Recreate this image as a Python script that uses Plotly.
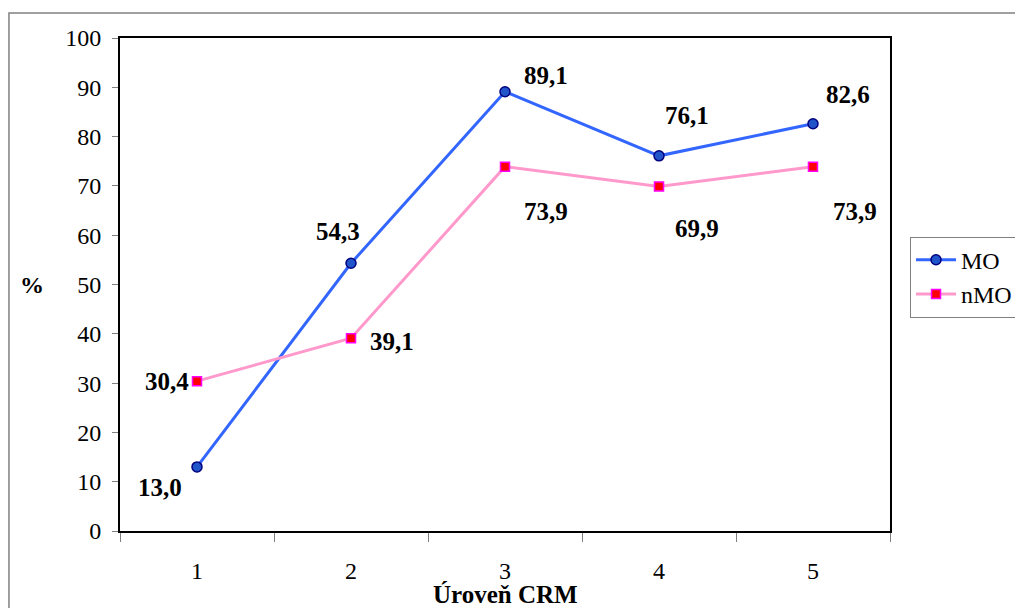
import plotly.graph_objects as go

categories = [1, 2, 3, 4, 5]
mo_values = [13.0, 54.3, 89.1, 76.1, 82.6]
nmo_values = [30.4, 39.1, 73.9, 69.9, 73.9]
y_ticks = [0, 10, 20, 30, 40, 50, 60, 70, 80, 90, 100]

# label offsets (px) for each point
mo_shift = [(-37, -21), (-13, 32), (41, 16), (28, 40), (35, 29)]
nmo_shift = [(-30, 0), (41, -3), (41, -45), (38, -42), (42, -45)]

FONT = "Liberation Serif"

fig = go.Figure()
fig.add_trace(go.Scatter(
    x=categories, y=mo_values, name="MO", mode="lines+markers",
    line=dict(color="#3366FF", width=3),
    marker=dict(symbol="circle", size=10, color="#1F55C8",
                line=dict(color="#000080", width=1.5)),
))
fig.add_trace(go.Scatter(
    x=categories, y=nmo_values, name="nMO", mode="lines+markers",
    line=dict(color="#FF99CC", width=3),
    marker=dict(symbol="square", size=9, color="#FF0000",
                line=dict(color="#FF00FF", width=1.5)),
))

def fmt(v):
    return f"{v:.1f}".replace(".", ",")

for xs, ys, shifts in [(categories, mo_values, mo_shift), (categories, nmo_values, nmo_shift)]:
    for xv, yv, (dx, dy) in zip(xs, ys, shifts):
        fig.add_annotation(x=xv, y=yv, xref="x", yref="y", text=f"<b>{fmt(yv)}</b>",
                           showarrow=False, xshift=dx, yshift=dy,
                           font=dict(family=FONT, size=25, color="black"))

# axis titles and outer frame
fig.add_annotation(x=-0.1143, y=0.5, xref="paper", yref="paper", text="<b>%</b>",
                   xanchor="center", yanchor="middle",
                   showarrow=False, font=dict(family=FONT, size=24, color="black"))
fig.add_annotation(x=0.5, y=-0.128, xref="paper", yref="paper", text="<b>Úroveň CRM</b>",
                   xanchor="center", yanchor="middle",
                   showarrow=False, font=dict(family=FONT, size=25, color="black"))
fig.add_shape(type="rect", xref="paper", yref="paper",
              x0=-0.1442, x1=1.2, y0=-0.2, y1=1.0507,
              line=dict(color="#808080", width=1.5), layer="below")

fig.update_layout(
    width=1023, height=608,
    margin=dict(l=112, r=141, t=30, b=85, autoexpand=False),
    paper_bgcolor="white", plot_bgcolor="white",
    font=dict(family=FONT, size=24, color="black"),
    showlegend=True,
    legend=dict(x=1.026, y=0.597, xanchor="left", yanchor="top",
                bordercolor="#808080", borderwidth=1,
                font=dict(family=FONT, size=24, color="black"),
                itemwidth=40, tracegroupgap=0),
    xaxis=dict(range=[0.5, 5.5], tickmode="array", tickvals=categories,
               ticktext=[str(c) for c in categories], automargin=False,
               showgrid=False, zeroline=False, showline=True, linecolor="black", linewidth=2,
               mirror=True, ticks="", ticklabelstandoff=17,
               tickfont=dict(family=FONT, size=24)),
    yaxis=dict(range=[0, 100], tickmode="array", tickvals=y_ticks, automargin=False,
               showgrid=False, zeroline=False, showline=True, linecolor="black", linewidth=2,
               mirror=True, ticks="outside", ticklen=6, tickcolor="#808080",
               ticklabelstandoff=6, tickfont=dict(family=FONT, size=24)),
)

# ticks between categories on x axis
fig.update_xaxes(minor=dict(tickmode="array", tickvals=[0.5, 1.5, 2.5, 3.5, 4.5, 5.5],
                            ticks="outside", ticklen=9, tickcolor="#808080", tickwidth=1))

fig.write_html("out.html")
